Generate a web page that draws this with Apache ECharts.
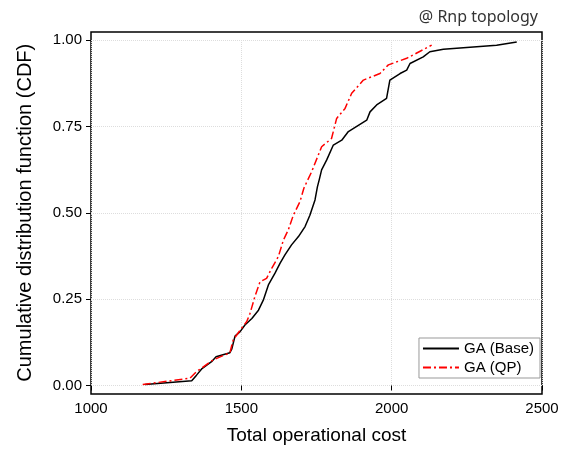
<!DOCTYPE html>
<html>
<head>
<meta charset="utf-8">
<script src="https://cdn.jsdelivr.net/npm/echarts@6/dist/echarts.min.js"></script>
<style>
    html, body { margin: 0; padding: 0; background: #fff; }
    #container { width: 567px; height: 452px; }
</style>
</head>
<body>
<div id="container"></div>
<script>
// GA (Base) - cost vs cumulative share
var baseCost = [1180, 1335, 1351, 1368, 1401, 1416, 1462, 1468, 1479, 1496, 1512, 1535, 1557, 1573,
    1590, 1612, 1629, 1645, 1667, 1690, 1712, 1728, 1745, 1753, 1759, 1767, 1784, 1806, 1834, 1856,
    1917, 1928, 1950, 1983, 1994, 2028, 2050, 2061, 2105, 2127, 2172, 2349, 2416];
var baseCdf = [0.003, 0.014, 0.030, 0.048, 0.069, 0.083, 0.095, 0.105, 0.143, 0.156, 0.175, 0.194, 0.218, 0.247,
    0.291, 0.325, 0.354, 0.378, 0.407, 0.431, 0.460, 0.493, 0.537, 0.575, 0.595, 0.624, 0.653, 0.696, 0.710, 0.735,
    0.768, 0.792, 0.812, 0.831, 0.884, 0.903, 0.913, 0.932, 0.951, 0.966, 0.973, 0.985, 0.994];

// GA (QP)
var qpCost = [1172, 1329, 1351, 1406, 1462, 1473, 1501, 1518, 1529, 1545, 1562, 1584, 1601, 1623,
    1640, 1656, 1673, 1695, 1708, 1734, 1767, 1800, 1817, 1845, 1867, 1906, 1961, 1989, 2050, 2133];
var qpCdf = [0.003, 0.021, 0.040, 0.074, 0.095, 0.132, 0.166, 0.185, 0.209, 0.257, 0.300, 0.310, 0.339, 0.373,
    0.421, 0.450, 0.493, 0.532, 0.571, 0.619, 0.691, 0.715, 0.773, 0.802, 0.846, 0.884, 0.903, 0.928, 0.947, 0.985];

var seriesNames = ['GA (Base)', 'GA (QP)'];
var titleText = '@ Rnp topology';
var xName = 'Total operational cost';
var yName = 'Cumulative distribution function (CDF)';

function pairs(xs, ys) {
    return xs.map((x, i) => [x, ys[i]]);
}

var font = "'Liberation Sans', Arial, sans-serif";
var myChart = echarts.init(document.getElementById('container'), null, {renderer: 'canvas'});

var option = {
    backgroundColor: '#fff',
    animation: false,
    title: {
        text: titleText,
        right: 24,
        top: 4,
        textStyle: {fontFamily: "'Noto Sans', sans-serif", fontSize: 16, fontWeight: 'normal', color: '#333'}
    },
    legend: {
        orient: 'vertical',
        right: 27,
        bottom: 74,
        data: seriesNames,
        backgroundColor: '#fff',
        borderColor: '#999',
        borderWidth: 1,
        borderRadius: 0,
        padding: [3, 6, 3, 3],
        itemGap: 4,
        itemWidth: 36,
        itemHeight: 14,
        itemStyle: {opacity: 0},
        textStyle: {fontFamily: font, fontSize: 15, color: '#000'}
    },
    grid: [
        // data area: y 0..1
        {left: 91, right: 25, top: 40, bottom: 66.5, outerBoundsMode: 'none', containLabel: false},
        // frame box, padded a little above and below
        {left: 91, right: 25, top: 32, bottom: 58, show: true, borderColor: '#000', borderWidth: 1.5,
            backgroundColor: 'transparent', outerBoundsMode: 'none', containLabel: false}
    ],
    xAxis: [{
        type: 'value',
        gridIndex: 0,
        min: 1000,
        max: 2500,
        interval: 500,
        offset: 8.5,
        name: xName,
        nameLocation: 'middle',
        nameGap: 32,
        nameTextStyle: {fontFamily: font, fontSize: 19, color: '#000'},
        axisLine: {show: false},
        axisTick: {show: true, inside: false, length: 5, lineStyle: {color: '#000', width: 1}},
        axisLabel: {fontFamily: font, fontSize: 15, color: '#000', margin: 7,
            formatter: (v) => String(v)},
        splitLine: {show: true, lineStyle: {color: '#ddd', type: 'dotted', width: 1}}
    }, {
        type: 'value', gridIndex: 1, show: false, min: 0, max: 1
    }],
    yAxis: [{
        type: 'value',
        gridIndex: 0,
        min: 0,
        max: 1,
        interval: 0.25,
        name: yName,
        nameLocation: 'middle',
        nameGap: 56,
        nameTextStyle: {fontFamily: font, fontSize: 20, color: '#000'},
        axisLine: {show: false},
        axisTick: {show: true, inside: false, length: 5, lineStyle: {color: '#000', width: 1}},
        axisLabel: {fontFamily: font, fontSize: 15, color: '#000', margin: 9,
            formatter: (v) => v.toFixed(2)},
        splitLine: {show: true, lineStyle: {color: '#ddd', type: 'dotted', width: 1}}
    }, {
        type: 'value', gridIndex: 1, show: false, min: 0, max: 1
    }],
    series: [{
        name: seriesNames[0],
        type: 'line',
        xAxisIndex: 0,
        yAxisIndex: 0,
        symbol: 'none',
        z: 3,
        lineStyle: {color: '#000', width: 1.5},
        itemStyle: {color: '#000'},
        data: pairs(baseCost, baseCdf)
    }, {
        name: seriesNames[1],
        type: 'line',
        xAxisIndex: 0,
        yAxisIndex: 0,
        symbol: 'none',
        z: 4,
        lineStyle: {color: '#ff0000', width: 1.5, type: [8, 3, 2, 3]},
        itemStyle: {color: '#ff0000'},
        data: pairs(qpCost, qpCdf)
    }]
};
myChart.setOption(option);
</script>
</body>
</html>
